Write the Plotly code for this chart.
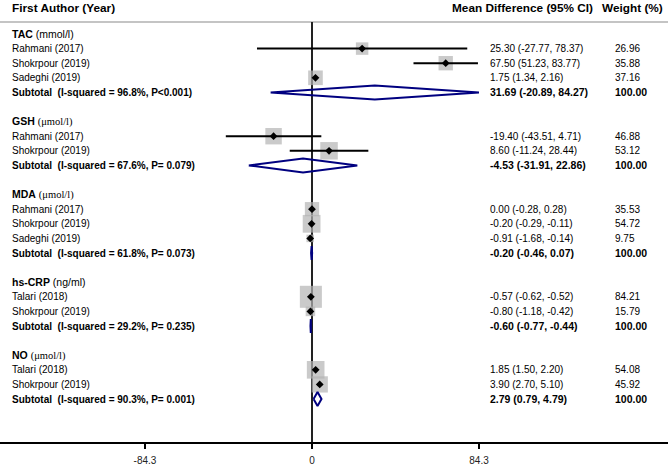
import numpy as np
import plotly.graph_objects as go

# ---------------- data ----------------
group_names = ["TAC", "GSH", "MDA", "hs-CRP", "NO"]
group_units = ["(mmol/l)", "(μmol/l)", "(μmol/l)", "(ng/ml)", "(μmol/l)"]
unit_serif = [False, True, True, False, True]
studies = [
    ["Rahmani (2017)", "Shokrpour (2019)", "Sadeghi (2019)"],
    ["Rahmani (2017)", "Shokrpour (2019)"],
    ["Rahmani (2017)", "Shokrpour (2019)", "Sadeghi (2019)"],
    ["Talari (2018)", "Shokrpour (2019)"],
    ["Talari (2018)", "Shokrpour (2019)"],
]
md = [[25.30, 67.50, 1.75], [-19.40, 8.60], [0.00, -0.20, -0.91], [-0.57, -0.80], [1.85, 3.90]]
ci_lo = [[-27.77, 51.23, 1.34], [-43.51, -11.24], [-0.28, -0.29, -1.68], [-0.62, -1.18], [1.50, 2.70]]
ci_hi = [[78.37, 83.77, 2.16], [4.71, 28.44], [0.28, -0.11, -0.14], [-0.52, -0.42], [2.20, 5.10]]
weights = [[26.96, 35.88, 37.16], [46.88, 53.12], [35.53, 54.72, 9.75], [84.21, 15.79], [54.08, 45.92]]
sub_md = [31.69, -4.53, -0.20, -0.60, 2.79]
sub_lo = [-20.89, -31.91, -0.46, -0.77, 0.79]
sub_hi = [84.27, 22.86, 0.07, -0.44, 4.79]
i_squared = ["96.8%", "67.6%", "61.8%", "29.2%", "90.3%"]
p_values = ["P&lt;0.001", "P= 0.079", "P= 0.073", "P= 0.235", "P= 0.001"]
tick_vals = [-84.3, 0, 84.3]
tick_text = ["-84.3", "0", "84.3"]

# ---------------- layout constants ----------------
W, H = 668, 466
ROW0_PX, ROW_PX = 34.0, 14.6
BOTTOM_PX = 442.0
ZERO_PX, PX_PER_UNIT = 312.0, 1.981
SANS = "Liberation Sans, Arial, sans-serif"
SERIF = "Liberation Serif, Times New Roman, serif"
NAVY = "#000080"
BOX = "#b4b4b4"

def px_to_row(p):
    return (p - ROW0_PX) / ROW_PX

x_range = [(0 - ZERO_PX) / PX_PER_UNIT, (W - ZERO_PX) / PX_PER_UNIT]
y_range = [px_to_row(BOTTOM_PX), px_to_row(0)]

annotations = []
def add_text(xpx, row, text, size=10, bold=False, color="black"):
    if bold:
        text = "<b>" + text + "</b>"
    annotations.append(dict(
        x=xpx / W, xref="paper", y=row, yref="y", text=text, showarrow=False,
        xanchor="left", yanchor="middle", font=dict(family=SANS, size=size, color=color),
    ))

# headers
hdr_row = px_to_row(8)
add_text(10, hdr_row, "First Author (Year)", size=11.8, bold=True)
add_text(450, hdr_row, "Mean Difference (95% CI)", size=11.8, bold=True)
add_text(600, hdr_row, "Weight (%)", size=11.8, bold=True)

# collect marks
ci_x, ci_y = [], []
pt_x, pt_y, box_size = [], [], []
dia_x, dia_y = [], []
row = 0
for g in range(len(group_names)):
    fam = SERIF if unit_serif[g] else SANS
    heading = ("<b>%s</b> <span style='font-family:%s'>%s</span>"
               % (group_names[g], fam, group_units[g]))
    add_text(10, row, heading, size=10.5)
    row += 1
    for s in range(len(studies[g])):
        add_text(10, row, studies[g][s])
        add_text(488, row, "%.2f (%.2f, %.2f)" % (md[g][s], ci_lo[g][s], ci_hi[g][s]))
        add_text(613, row, "%.2f" % weights[g][s])
        ci_x += [ci_lo[g][s], ci_hi[g][s], None]
        ci_y += [row, row, None]
        pt_x.append(md[g][s]); pt_y.append(row)
        box_size.append(2.4 * np.sqrt(weights[g][s]))
        row += 1
    add_text(10, row, "Subtotal&nbsp; (I-squared = %s, %s)" % (i_squared[g], p_values[g]), bold=True)
    add_text(488, row, "%.2f (%.2f, %.2f)" % (sub_md[g], sub_lo[g], sub_hi[g]), size=10.5, bold=True)
    add_text(613, row, "100.00", size=10.5, bold=True)
    hh = 0.48
    dia_x += [sub_lo[g], sub_md[g], sub_hi[g], sub_md[g], sub_lo[g], None]
    dia_y += [row, row - hh, row, row + hh, row, None]
    row += 2

fig = go.Figure()
fig.add_trace(go.Scatter(x=pt_x, y=pt_y, mode="markers", hoverinfo="skip",
                         marker=dict(symbol="square", size=box_size, color=BOX, line=dict(width=0))))
fig.add_trace(go.Scatter(x=ci_x, y=ci_y, mode="lines", hoverinfo="skip",
                         line=dict(color="black", width=2)))
fig.add_trace(go.Scatter(x=pt_x, y=pt_y, mode="markers", hoverinfo="skip",
                         marker=dict(symbol="diamond", size=6, color="black", line=dict(width=0))))
fig.add_trace(go.Scatter(x=dia_x, y=dia_y, mode="lines", hoverinfo="skip",
                         line=dict(color=NAVY, width=2)))

shapes = [
    dict(type="line", xref="paper", yref="y", x0=0, x1=1, y0=px_to_row(22), y1=px_to_row(22),
         line=dict(color="#c4c4c4", width=2), layer="below"),
    dict(type="line", xref="x", yref="y", x0=0, x1=0, y0=px_to_row(22), y1=px_to_row(BOTTOM_PX),
         line=dict(color="#222222", width=2), layer="below"),
]

fig.update_layout(
    width=W, height=H, showlegend=False,
    margin=dict(l=0, r=0, t=0, b=H - BOTTOM_PX, pad=0),
    paper_bgcolor="white", plot_bgcolor="white",
    annotations=annotations, shapes=shapes,
    xaxis=dict(range=x_range, showgrid=False, zeroline=False, showline=True,
               linecolor="black", linewidth=2, ticks="outside", ticklen=5, tickwidth=1.5,
               tickcolor="black", tickvals=tick_vals, ticktext=tick_text,
               ticklabelstandoff=3,
               tickfont=dict(family=SANS, size=10, color="#222222"), fixedrange=True),
    yaxis=dict(range=y_range, showgrid=False, zeroline=False, showline=False,
               showticklabels=False, ticks="", fixedrange=True),
)

fig.write_html(
    "out.html",
    config={"displayModeBar": False},
    post_script="document.body.style.margin='0';document.body.style.overflow='hidden';",
)
